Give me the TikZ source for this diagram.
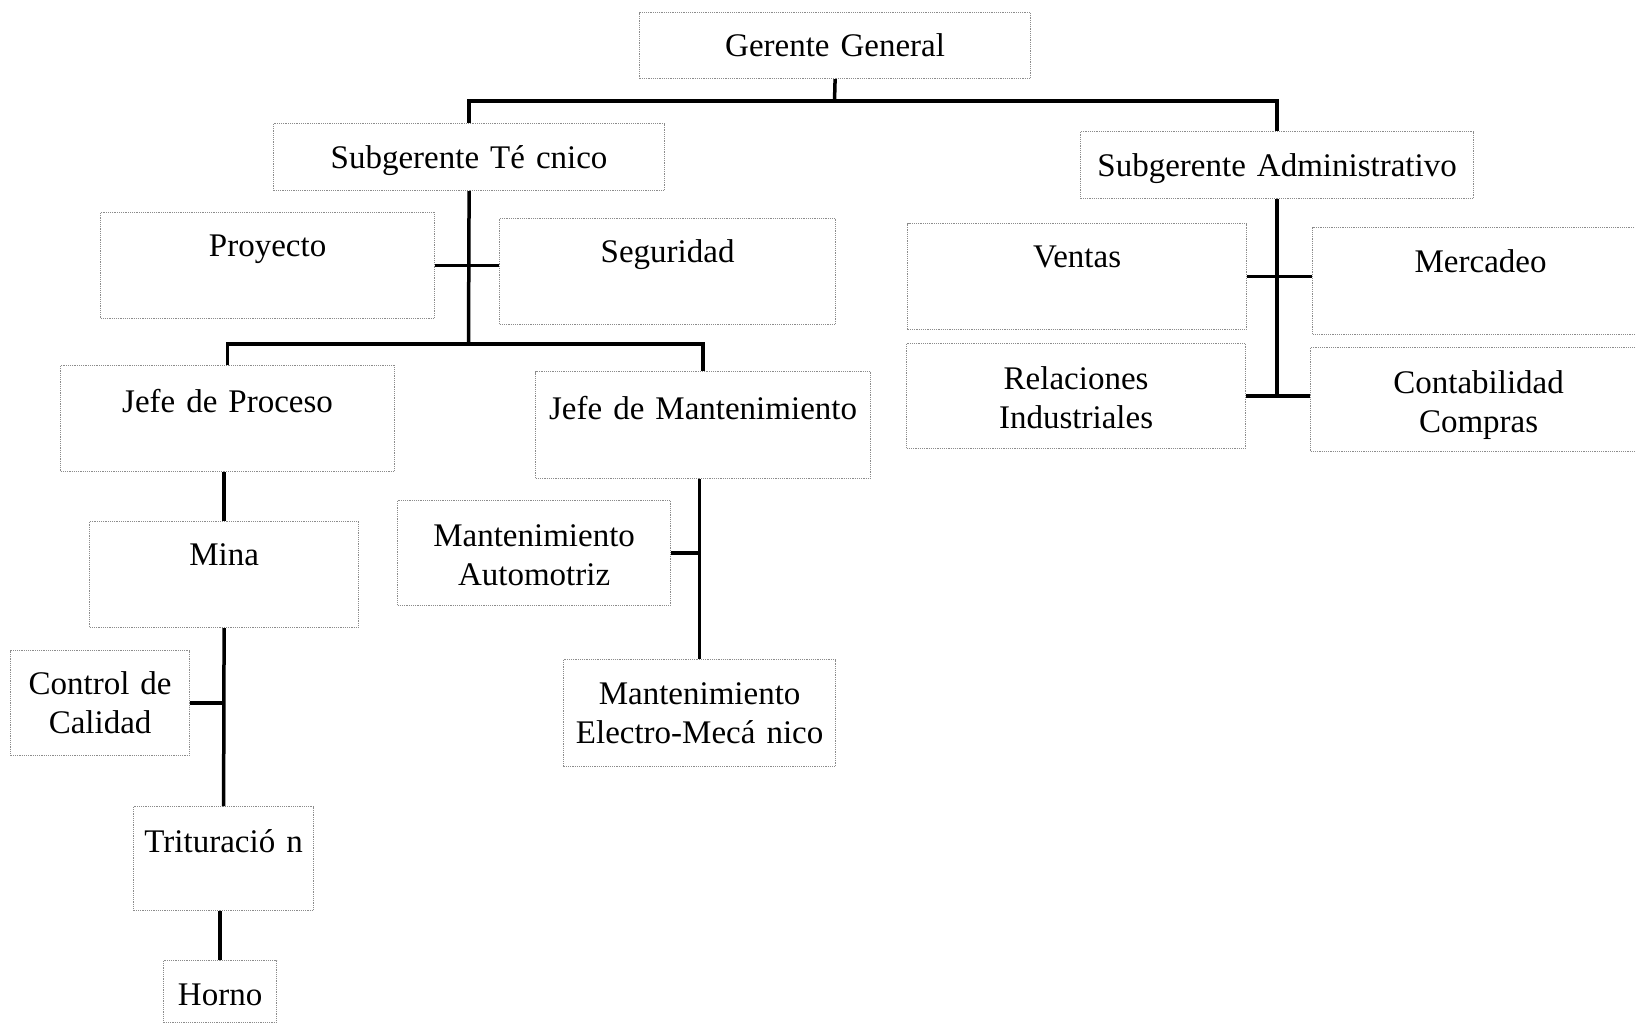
\documentclass[tikz,border=0pt]{standalone}
\usepackage{fontspec}
\setmainfont{Liberation Serif}
\begin{document}
\begin{tikzpicture}[x=1pt,y=-1pt]
\tikzstyle{bx} = [draw=black!45,densely dotted,line width=1.2pt,anchor=north west,inner sep=0pt,align=center,font=\fontsize{33}{39}\selectfont] %box
\tikzstyle{ln} = [-,line width=3.5pt,black] %line
\useasboundingbox(0,0)rectangle(1635,1023);
\node[bx,text width=391pt,text height=44pt,text depth=22pt](gg)at(639,12){Gerente General};
\node[bx,text width=391pt,text height=45pt,text depth=22pt](st)at(273,123){Subgerente Té cnico};
\node[bx,text width=393pt,text height=45pt,text depth=22pt](sa)at(1080,131){Subgerente Administrativo};
\node[bx,text width=334pt,text height=44pt,text depth=62pt](pr)at(100,212){Proyecto};
\node[bx,text width=336pt,text height=44pt,text depth=62pt](sg)at(499,218){Seguridad};
\node[bx,text width=334pt,text height=47pt,text depth=59pt](jp)at(60,365){Jefe de Proceso};
\node[bx,text width=335pt,text height=48pt,text depth=59pt](jm)at(535,371){Jefe de Mantenimiento};
\node[bx,text width=269pt,text height=44pt,text depth=62pt](mi)at(89,521){Mina};
\node[bx,text width=179pt,text height=44pt,text depth=61pt](cc)at(10,650){Control de\\Calidad};
\node[bx,text width=180pt,text height=46pt,text depth=58pt](tr)at(133,806){Trituració n};
\node[bx,text width=113pt,text height=45pt,text depth=17pt](ho)at(163,960){Horno};
\node[bx,text width=273pt,text height=46pt,text depth=59pt](ma)at(397,500){Mantenimiento\\Automotriz};
\node[bx,text width=272pt,text height=45pt,text depth=62pt](me)at(563,659){Mantenimiento\\Electro-Mecá nico};
\node[bx,text width=339pt,text height=44pt,text depth=62pt](ve)at(907,223){Ventas};
\node[bx,text width=336pt,text height=45pt,text depth=62pt](mc)at(1312,227){Mercadeo};
\node[bx,text width=336pt,text height=46pt,text depth=58pt](co)at(1310,347){Contabilidad\\Compras};
\node[bx,text width=339pt,text height=46pt,text depth=59pt](ri)at(906,343){Relaciones\\Industriales};
\coordinate(g1)at(834.5,101);
\coordinate(t1)at(468.5,344);
\draw[ln](gg.south)--(g1);
\draw[ln](st.north)|-(g1)-|(sa.north);
\draw[ln](st.south)--(t1);
\draw[ln](pr.east)--(pr.east-|sg.west);
\draw[ln](jp.north)|-(t1)-|(jm.north);
\draw[ln](mi.north|-jp.south)--(mi.north);
\draw[ln](mi.south)--(tr.north);
\draw[ln](cc.east)--(cc.east-|mi.south);
\draw[ln](ho.north|-tr.south)--(ho.north);
\draw[ln](me.north|-jm.south)--(me.north);
\draw[ln](ma.east)--(ma.east-|me.north);
\draw[ln](sa.south)--(sa.south|-ri.east);
\draw[ln](ve.east)--(ve.east-|mc.west);
\draw[ln](ri.east)--(ri.east-|co.west);
\end{tikzpicture}
\end{document}
